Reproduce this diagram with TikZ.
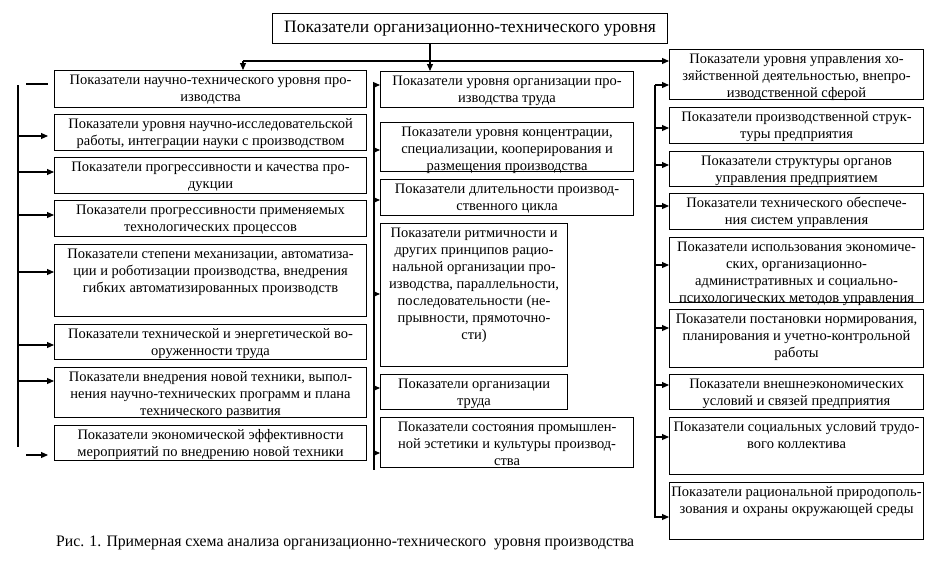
\documentclass[tikz,border=0pt]{standalone}
\usepackage{fontspec}
\usepackage{graphicx}
\setmainfont{Liberation Serif}
\usetikzlibrary{arrows.meta}
\tikzset{
 boxst/.style={draw, line width=1.1pt, inner sep=0pt, anchor=north west},
 txt/.style={inner sep=0pt, align=center, anchor=north, font=\fontsize{14.5}{17}\selectfont},
 arr/.style={-{Triangle[length=7pt,width=6pt]}, line width=1.1pt},
 ln/.style={line width=1.1pt},
}
\newcommand\obox[6]{%
 \node[boxst, minimum width={#4-#2}, minimum height={#5-#3}] (#1) at (#2,#3) {};
 \node[txt] (#1t) at ([yshift=-2.4pt]#1.north) {\strut #6};
}
\begin{document}
\begin{tikzpicture}[x=1pt,y=-1pt]
\fill[white] (0,0) rectangle (934,562);
\useasboundingbox (0,0) rectangle (934,562);
% title
\node[boxst, minimum width=395, minimum height=30] (T) at (272,13) {};
\node[inner sep=0pt, font=\fontsize{17.5}{20}\selectfont] (Tt) at (T.center) {Показатели организационно-технического уровня};
% left column
\obox{L1}{54}{70}{366}{107}{Показатели научно-технического уровня про-\\изводства}
\obox{L2}{54}{114}{366}{150}{Показатели уровня научно-исследовательской\\работы, интеграции науки с производством}
\obox{L3}{54}{157}{366}{193}{Показатели прогрессивности и качества про-\\дукции}
\obox{L4}{54}{200}{366}{236}{Показатели прогрессивности применяемых\\технологических процессов}
\obox{L5}{54}{244}{366}{316}{Показатели степени механизации, автоматиза-\\ции и роботизации производства, внедрения\\гибких автоматизированных производств}
\obox{L6}{54}{324}{366}{359}{Показатели технической и энергетической во-\\оруженности труда}
\obox{L7}{54}{367}{366}{417}{Показатели внедрения новой техники, выпол-\\нения научно-технических программ и плана\\технического развития}
\obox{L8}{54}{425}{366}{460}{Показатели экономической эффективности\\мероприятий по внедрению новой техники}
% middle column
\obox{M1}{380}{71}{633}{107}{Показатели уровня организации про-\\изводства труда}
\obox{M2}{380}{122}{633}{171}{Показатели уровня концентрации,\\специализации, кооперирования и\\размещения производства}
\obox{M3}{380}{179}{633}{215}{Показатели длительности производ-\\ственного цикла}
\obox{M4}{380}{223}{567}{366}{Показатели ритмичности и\\других принципов рацио-\\нальной организации про-\\изводства, параллельности,\\последовательности (не-\\прывности, прямоточно-\\сти)}
\obox{M5}{380}{374}{567}{409}{Показатели организации\\труда}
\obox{M6}{380}{417}{633}{467}{Показатели состояния промышлен-\\ной эстетики и культуры производ-\\ства}
% right column
\obox{R1}{669}{49}{923}{99}{Показатели уровня управления хо-\\зяйственной деятельностью, внепро-\\изводственной сферой}
\obox{R2}{669}{107}{923}{143}{Показатели производственной струк-\\туры предприятия}
\obox{R3}{669}{151}{923}{186}{Показатели структуры органов\\управления предприятием}
\obox{R4}{669}{193}{923}{229}{Показатели технического обеспече-\\ния систем управления}
\obox{R5}{669}{237}{923}{302}{Показатели использования экономиче-\\ских, организационно-\\административных и социально-\\психологических методов управления}
\obox{R6}{669}{309}{923}{367}{Показатели постановки нормирования,\\планирования и учетно-контрольной\\работы}
\obox{R7}{669}{374}{923}{409}{Показатели внешнеэкономических\\условий и связей предприятия}
\obox{R8}{669}{417}{923}{474}{Показатели социальных условий трудо-\\вого коллектива}
\obox{R9}{669}{482}{923}{539}{Показатели рациональной природополь-\\зования и охраны окружающей среды}
% top connectors
\coordinate (tx) at (430,0);
\draw[arr] (T.south -| tx) -- (M1.north -| tx);
\coordinate (hl) at (243,61);
\draw[arr] (hl) -- (hl -| R1.west);
\draw[arr] (hl) -- (hl |- L1.north);
% left bus
\coordinate (lbt) at (18,85);
\coordinate (lbb) at (18,447);
\draw[ln] (lbt) -- (lbb);
\coordinate (ls1) at (26,84);
\coordinate (ls2) at (48,84);
\draw[ln] (ls1) -- (ls2);
\draw[arr, shorten >=6pt] (lbt |- 0,136) -- (L2.west |- 0,136);
\foreach \n/\y in {L3/172, L4/215, L5/272, L6/345, L7/381}
  \draw[arr] (lbt |- 0,\y) -- (\n.west |- 0,\y);
\coordinate (lx1) at (26,455);
\draw[arr, shorten >=6pt] (lx1) -- (L8.west |- lx1);
% middle bus
\coordinate (mbt) at (374,83);
\coordinate (mbb) at (374,470);
\draw[ln] (mbt) -- (mbb);
\foreach \n/\y in {M1/85, M2/150, M3/200, M4/294, M5/388, M6/453}
  \draw[arr] (mbt |- 0,\y) -- (\n.west |- 0,\y);
% right bus
\coordinate (rbt) at (655,85);
\coordinate (rbb) at (655,518);
\draw[ln] (rbt) -- (rbb);
\foreach \n/\y in {R1/85, R2/128, R3/165, R4/206, R5/265, R6/328, R7/385, R8/437, R9/517}
  \draw[arr] (rbt |- 0,\y) -- (\n.west |- 0,\y);
% caption
\node[inner sep=0pt, anchor=west, font=\fontsize{16}{18}\selectfont] (cap) at (56,543) {\resizebox{578pt}{\height}{Рис. 1. Примерная схема анализа организационно-технического\ \ уровня производства}};
\end{tikzpicture}
\end{document}
